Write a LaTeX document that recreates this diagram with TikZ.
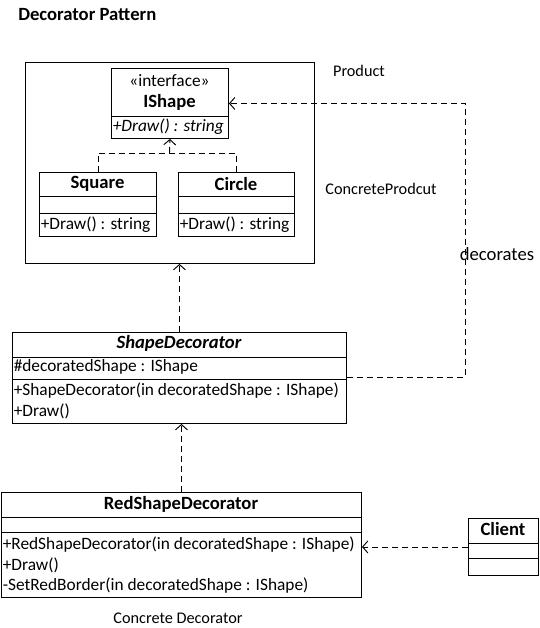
\documentclass[tikz,border=0pt]{standalone}
\usepackage{fontspec}
\setmainfont{Carlito}
\usetikzlibrary{arrows.meta}

\tikzset{
  classbox/.style={draw=black, line width=0.7pt, inner sep=0pt, anchor=north west},
  member/.style={anchor=west, inner sep=0pt, font=\fontsize{13}{15}\selectfont},
  classname/.style={inner sep=0pt, font=\bfseries\fontsize{14}{16}\selectfont},
  note/.style={inner sep=0pt, font=\fontsize{12.2}{14}\selectfont},
  realize/.style={line width=0.7pt, dash pattern=on 4.5pt off 3pt,
    -{Straight Barb[length=4pt,width=9pt]}},
}

\begin{document}
\begin{tikzpicture}[x=0.75pt, y=-0.75pt]
\useasboundingbox (0,0) rectangle (539,628);

\node[anchor=west, inner sep=0pt, font=\bfseries\fontsize{14}{16}\selectfont] (title) at (18,15) {Decorator Pattern};

% product package
\node[classbox, minimum width=289*0.75pt, minimum height=201*0.75pt] (product) at (25,62) {};

% IShape
\node[classbox, minimum width=117*0.75pt, minimum height=70*0.75pt] (ishape) at (111,68) {};
\draw[line width=0.7pt] (111,116) -- (228,116);
\node[inner sep=0pt, font=\fontsize{13}{15}\selectfont] (stereo) at (169.5,81) {«interface»};
\node[classname] (ishapename) at (169.5,102) {IShape};
\node[member, font=\itshape\fontsize{13}{15}\selectfont] (ishapedraw) at (112.5,127) {+Draw() : string};

% Square
\node[classbox, minimum width=117*0.75pt, minimum height=64*0.75pt] (square) at (39,172) {};
\draw[line width=0.7pt] (39,196) -- (156,196);
\draw[line width=0.7pt] (39,213) -- (156,213);
\node[classname] (squarename) at (97.5,184) {Square};
\node[member] (squaredraw) at (40.5,225) {+Draw() : string};

% Circle
\node[classbox, minimum width=116*0.75pt, minimum height=64*0.75pt] (circle) at (178,172) {};
\draw[line width=0.7pt] (178,196) -- (294,196);
\draw[line width=0.7pt] (178,213) -- (294,213);
\node[classname] (circlename) at (236,184) {Circle};
\node[member] (circledraw) at (179.5,225) {+Draw() : string};

\node[note] (productlbl) at (359,71) {Product};
\node[note] (concretelbl) at (381,189) {ConcreteProdcut};

% realization of IShape
\coordinate (junction) at (169.5,153);
\draw[line width=0.7pt, dash pattern=on 4.5pt off 3pt] (square.north) |- (circle.north |- junction) -- (circle.north);
\draw[realize] (junction) -- (ishape.south);

% ShapeDecorator
\node[classbox, minimum width=334*0.75pt, minimum height=91*0.75pt] (shapedec) at (12,332) {};
\draw[line width=0.7pt] (12,357) -- (346,357);
\draw[line width=0.7pt] (12,379) -- (346,379);
\node[classname, font=\bfseries\itshape\fontsize{14}{16}\selectfont] (shapedecname) at (179,343) {ShapeDecorator};
\node[member] (decshape) at (13.5,367) {\#decoratedShape : IShape};
\node[member] (decctor) at (13.5,391) {+ShapeDecorator(in decoratedShape : IShape)};
\node[member] (decdraw) at (13.5,411) {+Draw()};

% RedShapeDecorator
\node[classbox, minimum width=360*0.75pt, minimum height=105*0.75pt] (red) at (1,492) {};
\draw[line width=0.7pt] (1,517) -- (361,517);
\draw[line width=0.7pt] (1,532) -- (361,532);
\node[classname] (redname) at (181,504) {RedShapeDecorator};
\node[member] (redctor) at (2.5,545) {+RedShapeDecorator(in decoratedShape : IShape)};
\node[member] (reddraw) at (2.5,565) {+Draw()};
\node[member] (redborder) at (2.5,586) {-SetRedBorder(in decoratedShape : IShape)};

\node[note] (concretedeclbl) at (178,618) {Concrete Decorator};

% Client
\node[classbox, minimum width=70*0.75pt, minimum height=57*0.75pt] (client) at (468,518) {};
\draw[line width=0.7pt] (468,543) -- (538,543);
\draw[line width=0.7pt] (468,558) -- (538,558);
\node[classname] (clientname) at (503,529) {Client};

% connectors
\coordinate (bend) at (465,377);
\draw[realize] (shapedec.north) -- (shapedec.north |- product.south);
\draw[realize] (shapedec.east |- bend) -- (bend) |- (ishape.east);
\node[inner sep=0pt, font=\fontsize{14}{16}\selectfont] (decorates) at (497,254) {decorates};
\draw[realize] (red.north) -- (red.north |- shapedec.south);
\draw[realize] (client.west) -- (client.west -| red.east);

\end{tikzpicture}
\end{document}
